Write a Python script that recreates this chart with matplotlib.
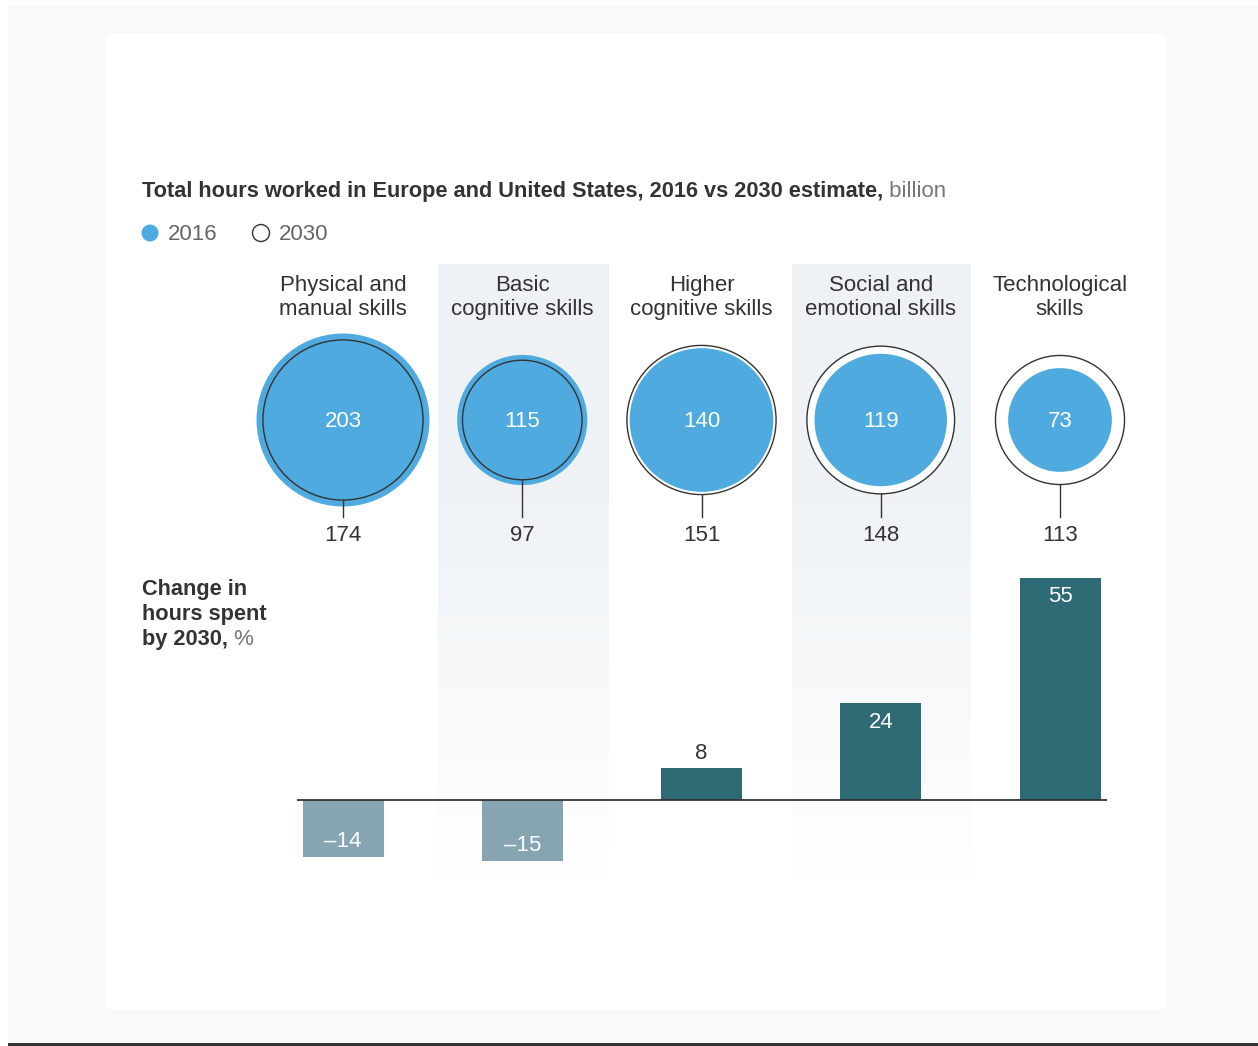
import numpy as np
import matplotlib
matplotlib.use("Agg")
import matplotlib.pyplot as plt
from matplotlib.patches import Circle, FancyBboxPatch, Rectangle

plt.rcParams['font.family'] = ['Liberation Sans', 'DejaVu Sans']

# ---- data ----
categories = [["Physical and", "manual skills"],
              ["Basic", "cognitive skills"],
              ["Higher", "cognitive skills"],
              ["Social and", "emotional skills"],
              ["Technological", "skills"]]
hours_2016 = [203, 115, 140, 119, 73]
hours_2030 = [174, 97, 151, 148, 113]
change_pct = [-14, -15, 8, 24, 55]
legend_labels = ["2016", "2030"]

BLUE = "#4eaadf"
POS = "#2d6a73"
NEG = "#86a4b1"
DARK = "#333333"
GREY = "#666666"
FS = 16
FSB = 15.7
DY = 1.5  # small vertical text offset

W, H = 1258, 1046
fig = plt.figure(figsize=(W / 100, H / 100), dpi=100)
fig.patch.set_facecolor("white")

ax = fig.add_axes([0, 0, 1, 1])
ax.set_xlim(0, W)
ax.set_ylim(H, 0)
ax.axis("off")

# page background & card
ax.add_patch(Rectangle((8, 5), W - 8, H - 8, facecolor="#f9f9f9", edgecolor="none", zorder=0))
ax.add_patch(Rectangle((8, 1043), W - 8, 3, facecolor="#333333", edgecolor="none", zorder=0))
ax.add_patch(FancyBboxPatch((105, 33), 1061, 977, boxstyle="round,pad=0,rounding_size=8",
                            facecolor="white", edgecolor="none", zorder=0.5))

x0, dx = 343, 179.25
centers = [x0 + i * dx for i in range(len(categories))]

# shaded bands (gradient) for alternating columns
top_c = np.array([0xee, 0xf2, 0xf5]) / 255.0
ys = np.linspace(264, 880, 300)
alpha = np.clip((880 - ys) / (880 - 470), 0, 1)
grad = top_c[None, :] * alpha[:, None] + (1 - alpha[:, None]) * np.ones(3)[None, :]
img = np.repeat(grad[:, None, :], 2, axis=1)
for (l, r) in [(438, 609), (792, 971)]:
    ax.imshow(img, extent=(l, r, 880, 264), aspect="auto", zorder=1, interpolation="bilinear")
ax.set_xlim(0, W)
ax.set_ylim(H, 0)

# titles
t = ax.text(142, 190 + DY, "Total hours worked in Europe and United States, 2016 vs 2030 estimate,",
            fontsize=FSB, color=DARK, fontweight="bold", va="center", ha="left", zorder=3)
ax.annotate(" billion", xy=(1, 0.5), xycoords=t, va="center", ha="left",
            fontsize=FS, color="#777777", zorder=3)

# legend
ax.add_patch(Circle((150, 233), 8.5, facecolor=BLUE, edgecolor="none", zorder=3))
ax.text(168, 233 + DY, legend_labels[0], fontsize=FS, color=GREY, va="center", ha="left", zorder=3)
ax.add_patch(Circle((261, 233), 8.5, facecolor="white", edgecolor=DARK, lw=1.0, zorder=3))
ax.text(279, 233 + DY, legend_labels[1], fontsize=FS, color=GREY, va="center", ha="left", zorder=3)

# category labels
for cx, lab in zip(centers, categories):
    ax.text(cx, 284 + DY, lab[0], fontsize=FS, color=DARK, ha="center", va="center", zorder=3)
    ax.text(cx, 308 + DY, lab[1], fontsize=FS, color=DARK, ha="center", va="center", zorder=3)

# bubbles
k = 6.07
cy = 420
for cx, a, b in zip(centers, hours_2016, hours_2030):
    r16 = k * np.sqrt(a)
    r30 = k * np.sqrt(b)
    if b > a:
        ax.add_patch(Circle((cx, cy), r30, facecolor="white", edgecolor=DARK, lw=1.0, zorder=3))
        ax.add_patch(Circle((cx, cy), r16, facecolor=BLUE, edgecolor="none", zorder=4))
    else:
        ax.add_patch(Circle((cx, cy), r16, facecolor=BLUE, edgecolor="none", zorder=3))
        ax.add_patch(Circle((cx, cy), r30, facecolor="none", edgecolor=DARK, lw=1.0, zorder=4))
    ax.plot([cx, cx], [cy + r30, 517], color=DARK, lw=1.0, zorder=4)
    ax.text(cx, cy + DY, str(a), color="white", fontsize=FS, ha="center", va="center", zorder=5)
    ax.text(cx, 534 + DY, str(b), color=DARK, fontsize=FS, ha="center", va="center", zorder=5)

# left label for the bars
ax.text(142, 588 + DY, "Change in", fontsize=FSB, color=DARK, fontweight="bold", va="center", zorder=3)
ax.text(142, 613 + DY, "hours spent", fontsize=FSB, color=DARK, fontweight="bold", va="center", zorder=3)
t2 = ax.text(142, 638 + DY, "by 2030,", fontsize=FSB, color=DARK, fontweight="bold", va="center", zorder=3)
ax.annotate(" %", xy=(1, 0.5), xycoords=t2, va="center", ha="left",
            fontsize=FS, color="#777777", zorder=3)

# bar axes: x in category index, y in %
px_per_pct = 4.04
base_y = 800
ax_top, ax_bot = 560, 880
axl, axr = 297, 1107
bx = fig.add_axes([axl / W, 1 - ax_bot / H, (axr - axl) / W, (ax_bot - ax_top) / H])
bx.patch.set_alpha(0)
bx.set_xlim((axl - x0) / dx, (axr - x0) / dx)
bx.set_ylim(-(ax_bot - base_y) / px_per_pct, (base_y - ax_top) / px_per_pct)
bx.axis("off")
idx = np.arange(len(change_pct))
cols = [POS if v > 0 else NEG for v in change_pct]
bx.bar(idx, change_pct, width=81 / dx, color=cols, zorder=2)
bx.axhline(0, color=DARK, lw=1.3, zorder=3)
for i, v in zip(idx, change_pct):
    label = str(v).replace("-", "\u2013")
    if v < 0:
        bx.text(i, v + 3.8, label, color="white", fontsize=FS, ha="center", va="center", zorder=4)
    elif v < 15:
        bx.text(i, v + 3.6, label, color=DARK, fontsize=FS, ha="center", va="center", zorder=4)
    else:
        bx.text(i, v - 4.7, label, color="white", fontsize=FS, ha="center", va="center", zorder=4)

fig.savefig("out.png", dpi=100, facecolor=fig.get_facecolor())
